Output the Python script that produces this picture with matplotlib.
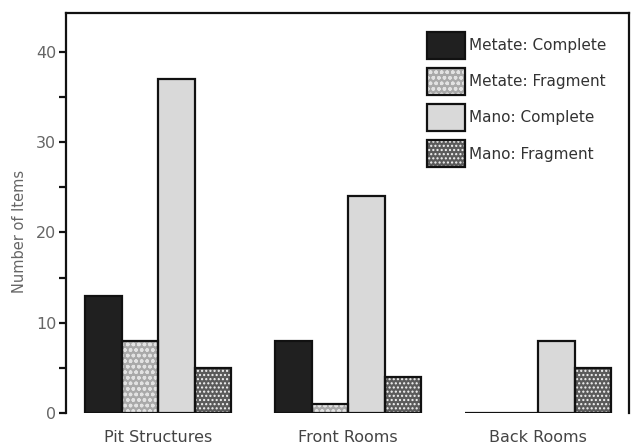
import numpy as np
import matplotlib.pyplot as plt
from matplotlib.patches import Patch

groups = ['Pit Structures', 'Front Rooms', 'Back Rooms']
series = ['Metate: Complete', 'Metate: Fragment', 'Mano: Complete', 'Mano: Fragment']
metate_complete = [13, 8, 0]
metate_fragment = [8, 1, 0]
mano_complete = [37, 24, 8]
mano_fragment = [5, 4, 5]
values = [metate_complete, metate_fragment, mano_complete, mano_fragment]

# fill style per series: face, hatch, hatch colour
styles = [('#202020', '', '#202020'),
          ('#a9a9a9', 'ooo', '#e2e2e2'),
          ('#d9d9d9', '', '#d9d9d9'),
          ('#5a5a5a', '....', '#f4f4f4')]

plt.rcParams['font.family'] = 'DejaVu Sans'
plt.rcParams['hatch.linewidth'] = 1.0

fig = plt.figure(figsize=(6.31, 4.45), dpi=100)
ax = fig.add_axes([66/631, 1-413/445, 563/631, 400/445])

gap = 5.2
x0 = np.arange(len(groups)) * gap
handles = []
for i, (vals, (fc, hatch, hc)) in enumerate(zip(values, styles)):
    ax.bar(x0 + i, vals, width=1.0, align='edge', color=fc, hatch=hatch,
           edgecolor=hc, linewidth=0, zorder=2)
    ax.bar(x0 + i, vals, width=1.0, align='edge', fill=False,
           edgecolor='#111111', linewidth=1.6, zorder=3)
    handles.append((Patch(facecolor=fc, hatch=hatch, edgecolor=hc, linewidth=0),
                    Patch(fill=False, edgecolor='#111111', linewidth=1.6)))

# baseline under each group
ax.hlines(np.zeros(len(x0)), x0, x0 + 4, color='#111111', linewidth=2, zorder=4)

ax.set_xlim(-0.52, x0[-1] + 4 + 0.49)
ax.set_ylim(0, 44.3)
ax.spines['bottom'].set_visible(False)
for s in ['left', 'top', 'right']:
    ax.spines[s].set_linewidth(1.6)
    ax.spines[s].set_color('#111111')

ax.set_yticks([0, 10, 20, 30, 40])
ax.set_yticks([5, 15, 25, 35], minor=True)
ax.tick_params(axis='y', which='both', length=5, width=1.6, color='#111111',
               labelsize=11.5, labelcolor='#666666', pad=2)
ax.set_xticks(x0 + 2)
ax.set_xticklabels(groups, fontsize=11.5, color='#444444')
ax.tick_params(axis='x', length=0, pad=12)
ax.set_ylabel('Number of Items', fontsize=10.5, color='#666666')
ax.yaxis.set_label_coords(-0.07, 0.455)

ax.legend(handles, series, loc='upper left', bbox_to_anchor=(419/631, 1-24/445),
          bbox_transform=fig.transFigure, frameon=False, fontsize=11,
          handlelength=2.5, handleheight=2.35, labelspacing=0.6,
          handletextpad=0.3, borderpad=0, labelcolor='#333333')

fig.savefig('out.png', dpi=100)
